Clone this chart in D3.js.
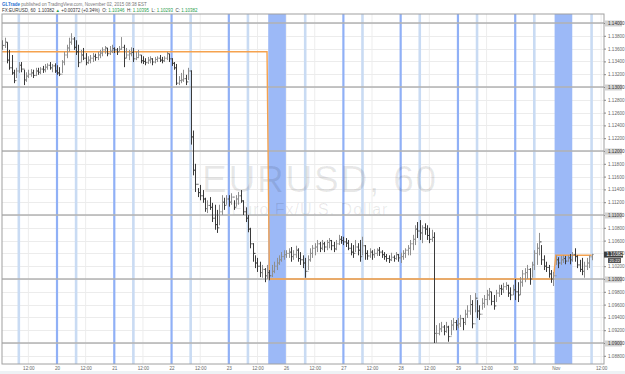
<!DOCTYPE html>
<html><head><meta charset="utf-8">
<script src="https://cdnjs.cloudflare.com/ajax/libs/d3/7.8.5/d3.min.js"></script>
<style>html,body{margin:0;padding:0;background:#fff;}svg{display:block;font-family:"Liberation Sans",Arial,sans-serif;}</style>
</head><body><svg id="c" width="625" height="374"></svg>
<script>
// ---- DATA ----
const sessions = [
  {start: "2015-10-19T01:00", bars: 112},
  {start: "2015-10-25T17:00", bars: 120},
  {start: "2015-11-01T17:00", bars: 16}
];
const weekendGaps = [["2015-10-23T17:00","2015-10-25T17:00"],["2015-10-30T17:00","2015-11-01T17:00"]];
const highs = [
 1.1373,1.1377,1.1370,1.1358,1.1350,1.1327,1.1330,1.1339,1.1339,1.1327,1.1323,1.1327,1.1328,1.1327,1.1330,1.1330,1.1331,1.1333,1.1336,1.1337,1.1339,1.1336,1.1337,
 1.1334,1.1331,1.1342,1.1355,1.1366,1.1377,1.1384,1.1378,1.1373,1.1366,1.1358,1.1361,1.1353,1.1348,1.1350,1.1353,1.1352,1.1355,1.1358,1.1362,1.1364,1.1361,1.1364,1.1366,
 1.1362,1.1361,1.1364,1.1378,1.1366,1.1361,1.1358,1.1362,1.1361,1.1355,1.1358,1.1350,1.1348,1.1345,1.1347,1.1348,1.1345,1.1347,1.1348,1.1350,1.1347,1.1348,1.1355,1.1352,
 1.1345,1.1339,1.1336,1.1317,1.1322,1.1327,1.1319,1.1330,1.1326,1.1232,1.1180,1.1142,1.1147,1.1139,1.1127,1.1123,1.1128,1.1119,1.1116,1.1108,1.1116,1.1131,1.1127,1.1131,
 1.1131,1.1134,1.1123,1.1131,1.1136,1.1139,1.1123,1.1112,1.1100,1.1080,1.1056,1.1037,1.1033,1.1027,1.1022,1.1017,1.1022,
 1.1014,1.1022,1.1027,1.1033,1.1037,1.1042,1.1045,
 1.1045,1.1048,1.1050,1.1045,1.1052,1.1048,1.1042,1.1037,1.1033,1.1037,1.1048,1.1053,1.1056,1.1061,1.1058,1.1061,1.1058,1.1061,1.1064,1.1061,1.1058,1.1061,1.1069,1.1067,
 1.1066,1.1064,1.1061,1.1056,1.1053,1.1061,1.1056,1.1061,1.1066,1.1053,1.1045,1.1048,1.1045,1.1047,1.1048,1.1050,1.1045,1.1042,1.1039,1.1037,1.1041,1.1037,1.1042,1.1039,
 1.1041,1.1045,1.1048,1.1053,1.1061,1.1069,1.1084,1.1089,1.1092,1.1084,1.1087,1.1084,1.1080,1.1077,1.1073,1.0928,1.0931,1.0933,1.0928,1.0933,1.0927,1.0936,1.0939,1.0936,
 1.0939,1.0944,1.0939,1.0952,1.0959,1.0975,1.0967,1.0978,1.0967,1.0959,1.0970,1.0975,1.0983,1.0986,1.0980,1.0975,1.0983,1.0991,1.0991,1.0994,1.0995,1.0991,1.0987,1.0991,
 1.1000,1.0995,1.1003,1.1014,1.1017,1.1022,1.1017,1.1027,1.1045,1.1056,1.1072,1.1053,1.1037,1.1027,1.1022,1.1014,1.1011,
 1.1037,1.1034,1.1036,1.1037,1.1036,1.1037,1.1039,
 1.1042,1.1048,1.1037,1.1030,1.1033,1.1027,1.1033,1.1037,1.10395
];
const lows = [
 1.1358,1.1361,1.1337,1.1327,1.1319,1.1306,1.1314,1.1322,1.1323,1.1303,1.1308,1.1314,1.1316,1.1314,1.1317,1.1319,1.1320,1.1322,1.1323,1.1327,1.1327,1.1323,1.1322,
 1.1319,1.1317,1.1322,1.1334,1.1345,1.1355,1.1366,1.1358,1.1350,1.1331,1.1339,1.1342,1.1334,1.1336,1.1337,1.1339,1.1341,1.1342,1.1345,1.1348,1.1352,1.1348,1.1350,1.1353,
 1.1353,1.1350,1.1355,1.1358,1.1331,1.1345,1.1342,1.1348,1.1339,1.1342,1.1345,1.1337,1.1336,1.1334,1.1336,1.1337,1.1334,1.1337,1.1339,1.1339,1.1337,1.1339,1.1342,1.1339,
 1.1333,1.1327,1.1303,1.1303,1.1306,1.1308,1.1303,1.1311,1.1210,1.1162,1.1136,1.1128,1.1123,1.1119,1.1105,1.1103,1.1108,1.1089,1.1077,1.1072,1.1084,1.1100,1.1108,1.1116,
 1.1113,1.1116,1.1108,1.1113,1.1116,1.1119,1.1100,1.1089,1.1073,1.1048,1.1027,1.1017,1.1011,1.1003,1.1002,1.0995,1.1000,
 1.0998,1.1003,1.1009,1.1014,1.1022,1.1027,1.1030,
 1.1033,1.1033,1.1027,1.1030,1.1033,1.1027,1.1022,1.1017,1.1002,1.1014,1.1027,1.1033,1.1037,1.1042,1.1042,1.1045,1.1042,1.1045,1.1048,1.1045,1.1042,1.1045,1.1053,1.1055,
 1.1053,1.1050,1.1045,1.1037,1.1033,1.1042,1.1037,1.1027,1.1037,1.1030,1.1030,1.1033,1.1030,1.1033,1.1036,1.1036,1.1033,1.1030,1.1027,1.1025,1.1028,1.1027,1.1030,1.1027,
 1.1025,1.1030,1.1033,1.1037,1.1037,1.1045,1.1053,1.1064,1.1061,1.1056,1.1069,1.1061,1.1056,1.1058,1.0900,1.0900,1.0912,1.0917,1.0912,1.0916,1.0902,1.0912,1.0920,1.0920,
 1.0923,1.0925,1.0920,1.0928,1.0939,1.0944,1.0923,1.0948,1.0939,1.0936,1.0952,1.0955,1.0959,1.0967,1.0959,1.0952,1.0964,1.0972,1.0975,1.0978,1.0983,1.0972,1.0967,1.0975,
 1.0967,1.0964,1.0975,1.0988,1.0995,1.1000,1.0991,1.1002,1.1014,1.1022,1.1037,1.1022,1.1014,1.1011,1.1002,1.0994,1.0989,
 1.1022,1.1017,1.1022,1.1025,1.1023,1.1027,1.1023,
 1.1027,1.1027,1.1017,1.1011,1.1006,1.1002,1.1014,1.1017,1.10293
];
const closes = [
 1.1365,1.1370,1.1342,1.1330,1.1322,1.1310,1.1325,1.1334,1.1328,1.1311,1.1317,1.1320,1.1322,1.1318,1.1325,1.1323,1.1328,1.1327,1.1331,1.1334,1.1330,1.1333,1.1325,
 1.1322,1.1320,1.1339,1.1350,1.1361,1.1370,1.1375,1.1362,1.1355,1.1338,1.1350,1.1345,1.1338,1.1342,1.1345,1.1348,1.1346,1.1350,1.1353,1.1358,1.1361,1.1352,1.1356,1.1360,
 1.1358,1.1355,1.1359,1.1362,1.1345,1.1350,1.1352,1.1354,1.1344,1.1346,1.1350,1.1341,1.1340,1.1338,1.1342,1.1344,1.1339,1.1343,1.1345,1.1342,1.1341,1.1345,1.1352,1.1344,
 1.1337,1.1330,1.1306,1.1310,1.1311,1.1313,1.1308,1.1325,1.1222,1.1170,1.1148,1.1135,1.1130,1.1125,1.1110,1.1115,1.1112,1.1095,1.1085,1.1080,1.1105,1.1120,1.1115,1.1125,
 1.1120,1.1128,1.1112,1.1125,1.1130,1.1122,1.1105,1.1095,1.1078,1.1055,1.1040,1.1025,1.1020,1.1010,1.1015,1.1005,1.1010,
 1.1005,1.1012,1.1020,1.1025,1.1030,1.1035,1.1038,
 1.1040,1.1042,1.1035,1.1038,1.1045,1.1032,1.1030,1.1025,1.1012,1.1030,1.1040,1.1048,1.1050,1.1055,1.1048,1.1055,1.1050,1.1057,1.1060,1.1052,1.1047,1.1055,1.1062,1.1060,
 1.1058,1.1056,1.1048,1.1042,1.1040,1.1050,1.1045,1.1035,1.1052,1.1040,1.1036,1.1042,1.1038,1.1040,1.1045,1.1042,1.1038,1.1035,1.1032,1.1030,1.1034,1.1032,1.1038,1.1033,
 1.1035,1.1040,1.1045,1.1048,1.1055,1.1062,1.1078,1.1075,1.1072,1.1080,1.1078,1.1068,1.1062,1.1065,1.0915,1.0915,1.0922,1.0925,1.0918,1.0925,1.0910,1.0928,1.0932,1.0928,
 1.0930,1.0938,1.0932,1.0945,1.0950,1.0960,1.0930,1.0970,1.0950,1.0945,1.0962,1.0968,1.0975,1.0980,1.0965,1.0958,1.0978,1.0985,1.0984,1.0988,1.0990,1.0978,1.0975,1.0983,
 1.0980,1.0975,1.0995,1.1008,1.1010,1.1015,1.1000,1.1022,1.1040,1.1048,1.1058,1.1030,1.1020,1.1018,1.1008,1.1000,1.1005,
 1.1030,1.1025,1.1030,1.1032,1.1028,1.1033,1.1030,
 1.1038,1.1035,1.1022,1.1015,1.1012,1.1020,1.1025,1.10346,1.10382
];
const firstOpen = 1.1368;
const weeklyOpens = [1.1355, 1.1000, 1.1037];
const yTicks = [1.088,1.090,1.092,1.094,1.096,1.098,1.100,1.102,1.104,1.106,1.108,1.110,1.112,1.114,1.116,1.118,1.120,1.122,1.124,1.126,1.128,1.130,1.132,1.134,1.136,1.138,1.140];
const majorLevels = [1.09,1.10,1.11,1.12,1.13,1.14];
const xTickTimes = ["2015-10-19T12:00","2015-10-20T00:00","2015-10-20T12:00","2015-10-21T00:00","2015-10-21T12:00","2015-10-22T00:00","2015-10-22T12:00","2015-10-23T00:00","2015-10-23T12:00","2015-10-26T00:00","2015-10-26T12:00","2015-10-27T00:00","2015-10-27T12:00","2015-10-28T00:00","2015-10-28T12:00","2015-10-29T00:00","2015-10-29T12:00","2015-10-30T00:00","2015-11-01T17:00","2015-11-02T12:00"];
const xTickLabels = ["12:00","20","12:00","21","12:00","22","12:00","23","12:00","26","12:00","27","12:00","28","12:00","29","12:00","30","Nov","12:00"];
const dayStarts = ["2015-10-20T00:00","2015-10-21T00:00","2015-10-22T00:00","2015-10-23T00:00","2015-10-27T00:00","2015-10-28T00:00","2015-10-29T00:00","2015-10-30T00:00"];
const morningMarks = ["2015-10-19T08:00","2015-10-20T08:00","2015-10-21T08:00","2015-10-22T08:00","2015-10-23T08:00","2015-10-26T08:00","2015-10-27T08:00","2015-10-28T08:00","2015-10-29T08:00","2015-10-30T08:00","2015-11-02T08:00"];
const sundaySessions = [["2015-10-25T17:00","2015-10-26T00:00"],["2015-11-01T17:00","2015-11-02T00:00"]];
const lastClose = 1.10382;

// ---- TIME -> SLOT ----
const parse = d3.utcParse("%Y-%m-%dT%H:%M");
const t0 = parse("2015-10-19T00:00");
const gaps = weekendGaps.map(g => [parse(g[0]), parse(g[1])]);
function slotOf(s){
  const d = typeof s === "string" ? parse(s) : s;
  let h = (d - t0) / 3.6e6;
  gaps.forEach(g => { if (d >= g[1]) h -= (g[1]-g[0])/3.6e6; });
  return h;
}
const bars = [];
let idx = 0;
sessions.forEach((s, si) => {
  const st = parse(s.start);
  for (let i = 0; i < s.bars; i++) {
    const t = d3.utcHour.offset(st, i);
    const c = closes[idx];
    const o = idx === 0 ? firstOpen : closes[idx-1];
    bars.push({slot: slotOf(t), o, h: highs[idx], l: lows[idx], c, week: si});
    idx++;
  }
});

// ---- LAYOUT ----
const L = 2, R = 604, T = 14, B = 364;
const x = d3.scaleLinear().domain([0.95, 253.2]).range([L, R]);
const y = d3.scaleLinear().domain([1.141406, 1.086719]).range([T, B]);
const svg = d3.select("#c");
svg.append("rect").attr("width",625).attr("height",374).attr("fill","#fff");
svg.append("defs").append("clipPath").attr("id","pc").append("rect")
  .attr("x",L).attr("y",T).attr("width",R-L).attr("height",B-T);
const g = svg.append("g").attr("clip-path","url(#pc)");

// vertical light grid
g.selectAll(".vg").data(xTickTimes).enter().append("line")
  .attr("x1",d=>x(slotOf(d))).attr("x2",d=>x(slotOf(d))).attr("y1",T).attr("y2",B)
  .attr("stroke","#ededed").attr("stroke-width",1);
// minor horizontal grid
g.selectAll(".hg").data(yTicks).enter().append("line")
  .attr("x1",L).attr("x2",R).attr("y1",d=>Math.round(y(d))+0.5).attr("y2",d=>Math.round(y(d))+0.5)
  .attr("stroke","#ececec").attr("stroke-width",1);

// weekend session bands
g.selectAll(".band").data(sundaySessions).enter().append("rect")
  .attr("x",d=>x(slotOf(d[0])-0.5)).attr("width",d=>x(slotOf(d[1])-0.1)-x(slotOf(d[0])-0.5))
  .attr("y",T).attr("height",B-T).attr("fill","#9cb9f7");
// day lines
g.selectAll(".dl").data(dayStarts).enter().append("line")
  .attr("x1",d=>x(slotOf(d))).attr("x2",d=>x(slotOf(d))).attr("y1",T).attr("y2",B)
  .attr("stroke","#90b0f6").attr("stroke-width",2.2);
g.selectAll(".ml").data(morningMarks).enter().append("line")
  .attr("x1",d=>x(slotOf(d))).attr("x2",d=>x(slotOf(d))).attr("y1",T).attr("y2",B)
  .attr("stroke","#c9dbf3").attr("stroke-width",2.6);

// watermark (semi-transparent, over the session shading)
g.append("text").attr("x",320).attr("y",192).attr("text-anchor","middle")
  .attr("font-size",37).attr("letter-spacing",1.8).attr("fill","#000").attr("fill-opacity",0.09).text("EURUSD, 60");
g.append("text").attr("x",310).attr("y",215).attr("text-anchor","middle")
  .attr("font-size",16).attr("letter-spacing",1).attr("fill","#000").attr("fill-opacity",0.09).text("Euro Fx/U.S. Dollar");

// major horizontal
g.selectAll(".mj").data(majorLevels).enter().append("line")
  .attr("x1",L).attr("x2",R).attr("y1",d=>y(d)).attr("y2",d=>y(d))
  .attr("stroke","#b2b2b2").attr("stroke-width",1.3);

// weekly open line
const wpts = [];
bars.forEach((b,i) => {
  if (i === 0) wpts.push([L-5, weeklyOpens[b.week]]);
  wpts.push([x(b.slot), weeklyOpens[b.week]]);
});
g.append("path").attr("d", d3.line().x(d=>d[0]).y(d=>y(d[1]))(wpts))
  .attr("fill","none").attr("stroke","#f5a24e").attr("stroke-width",1.4);

// OHLC bars
const bg = g.append("g");
bars.forEach(b => {
  const cx = Math.round(x(b.slot)) + 0.5;
  const col = b.c >= b.o ? "#8f8f8f" : "#3a3a3a";
  const p = d3.path();
  p.moveTo(cx, y(b.h)); p.lineTo(cx, y(b.l));
  p.moveTo(cx-1.2, y(b.o)); p.lineTo(cx, y(b.o));
  p.moveTo(cx, y(b.c)); p.lineTo(cx+1.2, y(b.c));
  bg.append("path").attr("d", p.toString()).attr("stroke", col).attr("stroke-width",1).attr("fill","none");
});

// borders
svg.append("rect").attr("x",L).attr("y",T).attr("width",R-L).attr("height",B-T)
  .attr("fill","none").attr("stroke","#a0a0a0").attr("stroke-width",1);

// right axis
const ra = svg.append("g").attr("transform",`translate(${R},0)`)
  .call(d3.axisRight(y).tickValues(yTicks).tickSize(2).tickPadding(2).tickFormat(d3.format(".5f")));
ra.select(".domain").remove();
ra.selectAll("line").attr("stroke","#888");
ra.selectAll("text").attr("font-size",4.6).attr("fill","#666").attr("font-family","Liberation Sans, Arial, sans-serif");
ra.selectAll(".tick").filter(d => majorLevels.some(m => Math.abs(m-d) < 1e-9))
  .insert("rect","text").attr("x",1).attr("y",-3).attr("width",17).attr("height",6).attr("fill","#d2d2d2");
ra.selectAll(".tick").filter(d => majorLevels.some(m => Math.abs(m-d) < 1e-9)).select("text").attr("fill","#333");

// last price labels
const ly = y(lastClose);
svg.append("rect").attr("x",R).attr("y",ly-3).attr("width",19).attr("height",6).attr("fill","#3c3c3c");
svg.append("text").attr("x",R+2.5).attr("y",ly+1.6).attr("font-size",4.6).attr("fill","#fff").text(d3.format(".5f")(lastClose));
svg.append("rect").attr("x",R+4).attr("y",ly+3.5).attr("width",13).attr("height",5).attr("fill","#555");
svg.append("text").attr("x",R+5.5).attr("y",ly+7.3).attr("font-size",4.2).attr("fill","#fff").text("21:22");

// bottom axis
const xa = svg.append("g").attr("transform",`translate(0,${B})`)
  .call(d3.axisBottom(x).tickValues(xTickTimes.map(slotOf)).tickSize(0).tickPadding(3)
    .tickFormat((d,i)=>xTickLabels[i]));
xa.select(".domain").remove();
xa.selectAll("text").attr("font-size",4.6).attr("fill","#666").attr("font-family","Liberation Sans, Arial, sans-serif");
svg.append("rect").attr("x",0).attr("y",371).attr("width",625).attr("height",3).attr("fill","#eef2f5");

// header
const h1 = svg.append("text").attr("x",2).attr("y",5.5).attr("font-size",4.5).attr("fill","#777");
h1.append("tspan").attr("fill","#2d6fd1").attr("font-weight","bold").text("GLTrade");
h1.append("tspan").text(" published on TradingView.com, November 02, 2015 08:38 EST");
const h2 = svg.append("text").attr("x",2).attr("y",11.5).attr("font-size",4.5).attr("fill","#333");
const parts = [["FX:EURUSD, 60  1.10382 ","#333"],["▲","#2a9d4a"],[" +0.00372 (+0.34%)  O: ","#333"],["1.10346","#2a9d4a"],["  H: ","#333"],["1.10395","#2a9d4a"],["  L: ","#333"],["1.10293","#2a9d4a"],["  C: ","#333"],["1.10382","#2a9d4a"]];
parts.forEach(p => h2.append("tspan").attr("fill",p[1]).text(p[0]));
h2.attr("style","white-space:pre");
</script></body></html>
